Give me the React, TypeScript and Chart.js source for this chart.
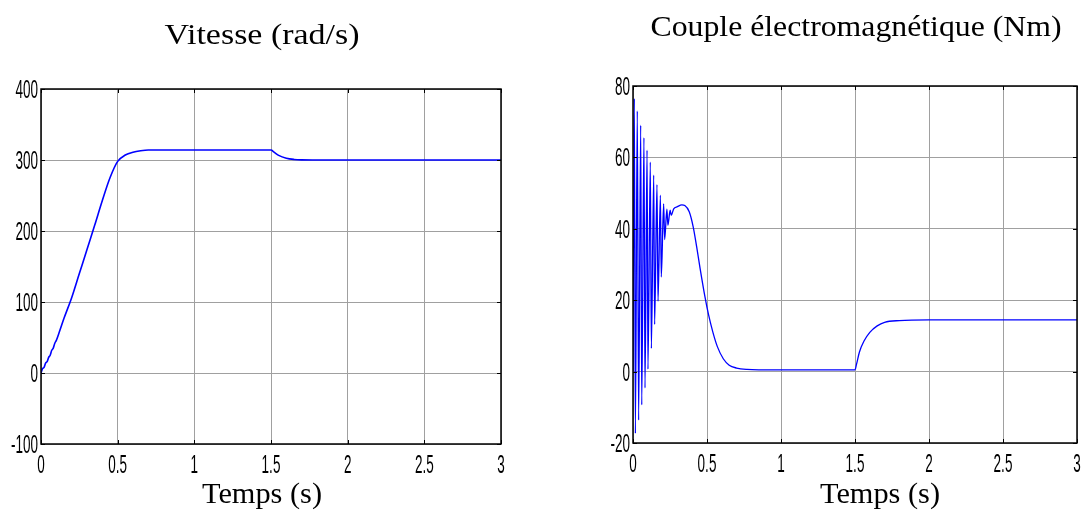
import { useEffect, useRef } from "react";
import { Chart, registerables } from "chart.js";

Chart.register(...registerables);

// Time axis (s) and value axes
const timeTicks = [0, 0.5, 1, 1.5, 2, 2.5, 3];
const speedTicks = [-100, 0, 100, 200, 300, 400];
const torqueTicks = [-20, 0, 20, 40, 60, 80];

// Rotor speed (rad/s)
const speedTime = [0, 0.01, 0.02, 0.03, 0.04, 0.05, 0.06, 0.07, 0.08, 0.09, 0.1, 0.12, 0.15, 0.2, 0.25, 0.3, 0.35, 0.4, 0.45, 0.5, 0.55, 0.6, 0.65, 0.7, 1.0, 1.5, 1.52, 1.55, 1.6, 1.65, 1.7, 1.8, 3.0];
const speedValues = [0, 6, 8, 14, 16, 22, 25, 32, 35, 42, 46, 58, 77, 106, 140, 174, 208, 243, 275, 298, 307, 311, 313, 314, 314, 314, 311, 306.5, 302.5, 300.8, 300.2, 300, 300];

// Electromagnetic torque (Nm)
const torqueTime = [0, 0.009, 0.016, 0.029, 0.038, 0.052, 0.059, 0.074, 0.081, 0.095, 0.101, 0.117, 0.124, 0.14, 0.146, 0.162, 0.169, 0.185, 0.191, 0.207, 0.214, 0.229, 0.236, 0.251, 0.258, 0.275, 0.3, 0.33, 0.35, 0.38, 0.407, 0.43, 0.453, 0.486, 0.51, 0.54, 0.57, 0.61, 0.65, 0.7, 0.77, 0.85, 1.0, 1.5, 1.51, 1.53, 1.56, 1.6, 1.65, 1.7, 1.8, 2.0, 3.0];
const torqueValues = [0, 76.5, -17.3, 73, -13.6, 69, -9.3, 65.5, -4.6, 62, 0.7, 58.7, 6.5, 55, 13.2, 52.4, 19.7, 49.4, 26.5, 47, 37, 45.5, 41, 45.2, 43.8, 45.6, 46.2, 46.7, 46.5, 44.8, 40.5, 35, 29, 21, 16, 11, 7, 3.6, 1.8, 1.0, 0.6, 0.5, 0.5, 0.5, 2, 5.5, 8.5, 11, 12.8, 13.8, 14.3, 14.5, 14.5];

type FrameOptions = {
  title: string;
  titleX: number;
  titleY: number;
  titleW: number;
  xTitle: string;
  xTitleX: number;
  xTitleY: number;
  xTitleW: number;
};

const SERIF = "'Liberation Serif', 'Times New Roman', serif";
const SANS = "'Liberation Sans', Arial, sans-serif";

// Boxed axes with inward ticks, condensed tick labels and serif titles
const framePlugin = {
  id: "frame",
  afterDraw(chart: any, _args: any, opts: FrameOptions) {
    const { ctx, chartArea: a } = chart;
    const xs = chart.scales.x;
    const ys = chart.scales.y;
    ctx.save();

    ctx.strokeStyle = "#000";
    ctx.lineWidth = 1;
    ctx.beginPath();
    xs.ticks.forEach((t: any) => {
      const px = Math.round(xs.getPixelForValue(t.value)) + 0.5;
      ctx.moveTo(px, a.bottom);
      ctx.lineTo(px, a.bottom - 4);
      ctx.moveTo(px, a.top);
      ctx.lineTo(px, a.top + 4);
    });
    ys.ticks.forEach((t: any) => {
      const py = Math.round(ys.getPixelForValue(t.value)) + 0.5;
      ctx.moveTo(a.left, py);
      ctx.lineTo(a.left + 4, py);
      ctx.moveTo(a.right, py);
      ctx.lineTo(a.right - 4, py);
    });
    ctx.stroke();

    ctx.lineWidth = 1.5;
    ctx.strokeRect(a.left, a.top, a.right - a.left, a.bottom - a.top);

    ctx.fillStyle = "#000";
    const squeeze = 0.54;
    const drawTick = (txt: string, x: number, y: number, align: CanvasTextAlign) => {
      ctx.save();
      ctx.font = `25px ${SANS}`;
      ctx.translate(x, y);
      ctx.scale(squeeze, 1);
      ctx.textAlign = align;
      ctx.textBaseline = "alphabetic";
      ctx.fillText(txt, 0, 0);
      ctx.restore();
    };
    xs.ticks.forEach((t: any) => {
      drawTick(String(t.label), xs.getPixelForValue(t.value), a.bottom + 29, "center");
    });
    ys.ticks.forEach((t: any) => {
      drawTick(String(t.label), a.left - 3, ys.getPixelForValue(t.value) + 9, "right");
    });

    const drawFitted = (txt: string, cx: number, base: number, w: number, size: number) => {
      ctx.save();
      ctx.font = `${size}px ${SERIF}`;
      const m = ctx.measureText(txt).width;
      ctx.translate(cx, base);
      ctx.scale(w / m, 1);
      ctx.textAlign = "center";
      ctx.textBaseline = "alphabetic";
      ctx.fillText(txt, 0, 0);
      ctx.restore();
    };
    drawFitted(opts.title, opts.titleX, opts.titleY, opts.titleW, 29);
    drawFitted(opts.xTitle, opts.xTitleX, opts.xTitleY, opts.xTitleW, 29);

    ctx.restore();
  },
};

function makeChart(
  canvas: HTMLCanvasElement,
  xs: number[],
  ys: number[],
  yTicks: number[],
  padding: { left: number; right: number; top: number; bottom: number },
  frame: FrameOptions,
  lineWidth: number
) {
  const points = xs.map((x, i) => ({ x, y: ys[i] }));
  return new Chart(canvas, {
    type: "line",
    data: {
      datasets: [
        {
          data: points,
          borderColor: "#0000ff",
          borderWidth: lineWidth,
          pointRadius: 0,
          fill: false,
          cubicInterpolationMode: "monotone",
        },
      ],
    },
    options: {
      responsive: false,
      animation: false,
      layout: { padding },
      plugins: {
        legend: { display: false },
        tooltip: { enabled: false },
        frame,
      } as any,
      scales: {
        x: {
          type: "linear",
          min: timeTicks[0],
          max: timeTicks[timeTicks.length - 1],
          afterBuildTicks: (s: any) => {
            s.ticks = timeTicks.map((v) => ({ value: v }));
          },
          ticks: { display: false, callback: (v: any) => String(v) },
          grid: { color: "#a0a0a0", lineWidth: 1, drawTicks: false },
          border: { display: false },
          afterFit: (s: any) => {
            s.height = 0;
          },
        },
        y: {
          type: "linear",
          min: yTicks[0],
          max: yTicks[yTicks.length - 1],
          afterBuildTicks: (s: any) => {
            s.ticks = yTicks.map((v) => ({ value: v }));
          },
          ticks: { display: false, callback: (v: any) => String(v) },
          grid: { color: "#a0a0a0", lineWidth: 1, drawTicks: false },
          border: { display: false },
          afterFit: (s: any) => {
            s.width = 0;
          },
        },
      },
    } as any,
    plugins: [framePlugin],
  });
}

export default function App() {
  const leftRef = useRef<HTMLCanvasElement>(null);
  const rightRef = useRef<HTMLCanvasElement>(null);

  useEffect(() => {
    const c1 = makeChart(
      leftRef.current!,
      speedTime,
      speedValues,
      speedTicks,
      { left: 41, right: 44, top: 89, bottom: 69 },
      {
        title: "Vitesse (rad/s)",
        titleX: 262,
        titleY: 44,
        titleW: 195,
        xTitle: "Temps (s)",
        xTitleX: 262,
        xTitleY: 503,
        xTitleW: 120,
      },
      1.6
    );
    const c2 = makeChart(
      rightRef.current!,
      torqueTime,
      torqueValues,
      torqueTicks,
      { left: 88, right: 12, top: 86, bottom: 70 },
      {
        title: "Couple électromagnétique (Nm)",
        titleX: 311,
        titleY: 36,
        titleW: 411,
        xTitle: "Temps (s)",
        xTitleX: 335,
        xTitleY: 503,
        xTitleW: 120,
      },
      1.3
    );
    return () => {
      c1.destroy();
      c2.destroy();
    };
  }, []);

  return (
    <div style={{ position: "fixed", left: 0, top: 0, width: 1089, height: 513, background: "#fff" }}>
      <canvas ref={leftRef} width={545} height={513} style={{ position: "absolute", left: 0, top: 0 }} />
      <canvas ref={rightRef} width={544} height={513} style={{ position: "absolute", left: 545, top: 0 }} />
    </div>
  );
}
